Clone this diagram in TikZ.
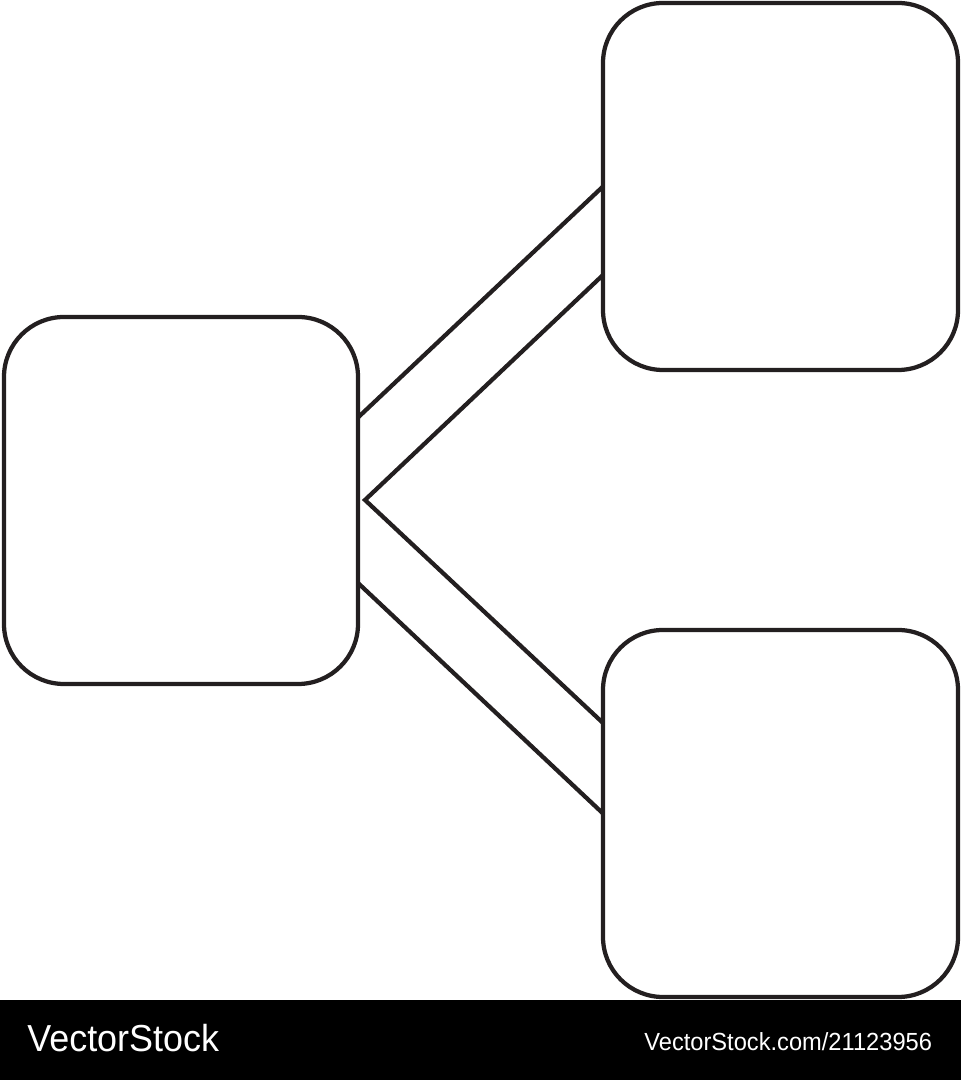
\documentclass[tikz,border=0pt]{standalone}
\usepackage{fontspec}
\usetikzlibrary{calc}
\newfontfamily\stockfont[FakeStretch=0.955]{Liberation Sans}
\definecolor{ink}{HTML}{231F20}

\begin{document}
\begin{tikzpicture}[x=0.2mm,y=0.2mm,
    panel/.style={shape=rectangle,draw=ink,line width=0.85mm,rounded corners=12mm,
        minimum width=71mm,minimum height=73.4mm,inner sep=0pt,outer sep=0pt},
    link/.style={draw=ink,line width=0.85mm},
    mark text/.style={text=white,inner sep=0pt,anchor=base west}]
    \useasboundingbox (0,0) rectangle (961,1080);
    \node[panel,minimum width=70.8mm] (L) at (181,579.5) {};
    \node[panel] (T) at (780.5,893.5) {};
    \node[panel] (B) at (780.5,266.5) {};
    \coordinate (tip) at (365,580);
    % the two bands
    \path[link] ($(L.east)+(0,83)$) -- (T.west);
    \path[link] ($(T.west)+(0,-88.5)$) -- (tip) -- ($(B.west)+(0,90.5)$);
    \path[link] ($(L.east)+(0,-82.5)$) -- (B.west);
    % banner
    \fill[black] (0,0) rectangle (961,80);
    \node[mark text,font=\stockfont\fontsize{21.4}{24}\selectfont] (brand) at (27,28) {VectorStock};
    \node[mark text,font=\stockfont\fontsize{14.1}{16}\selectfont] (ref) at (644,29) {VectorStock.com/21123956};
\end{tikzpicture}
\end{document}
